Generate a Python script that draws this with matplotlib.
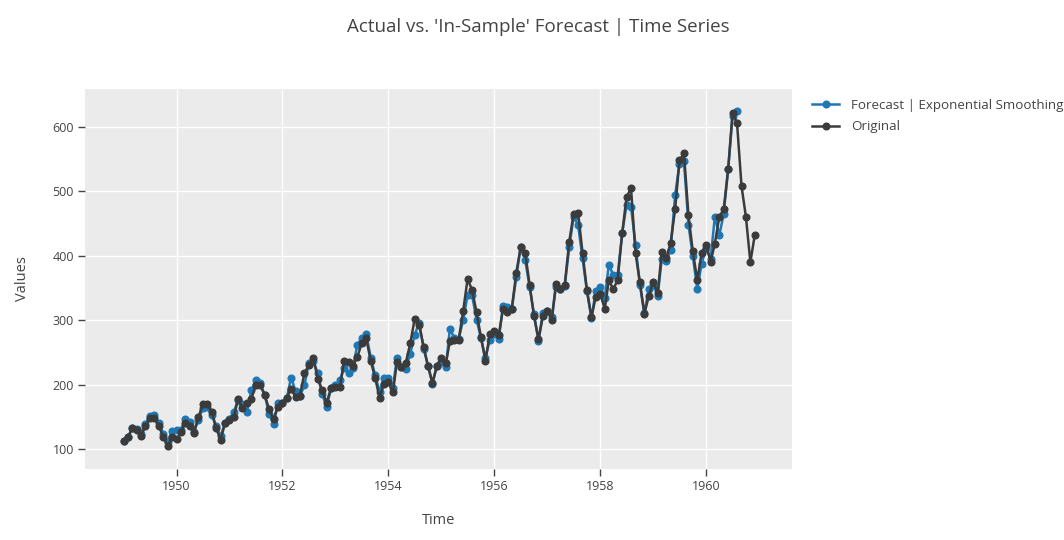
import numpy as np
import pandas as pd
import matplotlib
matplotlib.use("Agg")
import matplotlib.pyplot as plt
import matplotlib.dates as mdates

plt.rcParams['font.family'] = ['Open Sans', 'DejaVu Sans']

# monthly air passengers, Jan 1949 - Dec 1960
original = [
    112, 118, 132, 129, 121, 135, 148, 148, 136, 119, 104, 118,
    115, 126, 141, 135, 125, 149, 170, 170, 158, 133, 114, 140,
    145, 150, 178, 163, 172, 178, 199, 199, 184, 162, 146, 166,
    171, 180, 193, 181, 183, 218, 230, 242, 209, 191, 172, 194,
    196, 196, 236, 235, 229, 243, 264, 272, 237, 211, 180, 201,
    204, 188, 235, 227, 234, 264, 302, 293, 259, 229, 203, 229,
    242, 233, 267, 269, 270, 315, 364, 347, 312, 274, 237, 278,
    284, 277, 317, 313, 318, 374, 413, 405, 355, 306, 271, 306,
    315, 301, 356, 348, 355, 422, 465, 467, 404, 347, 305, 336,
    340, 318, 362, 348, 363, 435, 491, 505, 404, 359, 310, 337,
    360, 342, 406, 396, 420, 472, 548, 559, 463, 407, 362, 405,
    417, 391, 419, 461, 472, 535, 622, 606, 508, 461, 390, 432,
]

# in-sample forecast, Jan 1949 - Aug 1960
forecast = [
    113, 119, 133, 131, 123, 139, 152, 153, 141, 124, 111, 128,
    130, 130, 147, 142, 127, 145, 163, 165, 153, 135, 120, 140,
    147, 158, 176, 170, 157, 191, 207, 202, 184, 155, 139, 171,
    172, 180, 211, 190, 182, 199, 233, 236, 218, 186, 165, 194,
    199, 207, 226, 218, 226, 262, 272, 279, 242, 215, 189, 211,
    211, 195, 242, 227, 225, 248, 277, 296, 256, 229, 201, 229,
    235, 227, 287, 272, 271, 301, 339, 339, 301, 272, 242, 269,
    279, 271, 322, 321, 318, 367, 414, 394, 351, 309, 267, 311,
    315, 305, 351, 348, 353, 413, 461, 448, 396, 345, 303, 346,
    352, 335, 386, 370, 370, 435, 479, 476, 417, 355, 311, 348,
    355, 338, 395, 392, 409, 494, 543, 547, 448, 400, 348, 388,
    412, 395, 461, 432, 465, 535, 617, 625,
]

dates = pd.date_range("1949-01-01", periods=len(original), freq="MS")
fc_dates = dates[:len(forecast)]

blue = '#1f77b4'
dark = '#3b3b3b'
txt = '#444444'

fig = plt.figure(figsize=(10.64, 5.40), dpi=100)
ax = fig.add_axes([85 / 1064, 71 / 540, 707 / 1064, 380 / 540])
ax.set_facecolor('#ebebeb')

ax.plot(fc_dates, forecast, color=blue, lw=1.8, marker='o', ms=4.8,
        label='Forecast | Exponential Smoothing', zorder=3)
ax.plot(dates, original, color=dark, lw=1.8, marker='o', ms=4.8,
        label='Original', zorder=4)

ax.set_xlim(pd.Timestamp('1948-04-10'), pd.Timestamp('1961-08-15'))
ax.set_ylim(69, 659)
ax.xaxis.set_major_locator(mdates.YearLocator(2))
ax.xaxis.set_major_formatter(mdates.DateFormatter('%Y'))
ax.set_yticks([100, 200, 300, 400, 500, 600])

ax.grid(True, color='white', lw=1)
ax.set_axisbelow(True)
for s in ax.spines.values():
    s.set_visible(False)
ax.tick_params(colors=txt, labelcolor=txt, labelsize=9, length=5, width=1, pad=3)

ax.set_xlabel('Time', color=txt, fontsize=10.5, labelpad=14)
ax.set_ylabel('Values', color=txt, fontsize=10.5, labelpad=16)

fig.text(0.506, 1 - 27 / 540, "Actual vs. 'In-Sample' Forecast | Time Series",
         ha='center', va='center', color=txt, fontsize=13.5)

ax.legend(loc='upper left', bbox_to_anchor=(812 / 1064, 1 - 99 / 540),
          bbox_transform=fig.transFigure, frameon=False, fontsize=9.6,
          handlelength=2.05, handletextpad=0.9, labelspacing=0.62,
          labelcolor=txt, borderaxespad=0, borderpad=0)

fig.savefig('out.png', dpi=100, facecolor='white')
